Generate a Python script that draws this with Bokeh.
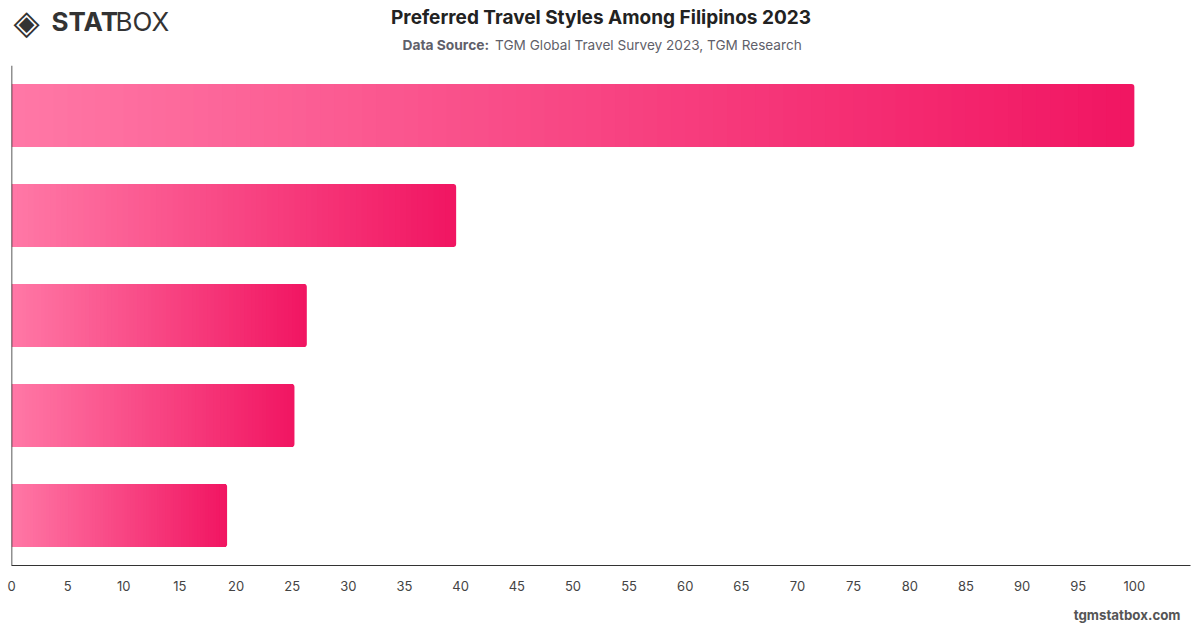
from bokeh.plotting import figure
from bokeh.layouts import column
from bokeh.models import Range1d, FixedTicker, Span, Label, ColumnDataSource
from bokeh.embed import file_html
from bokeh.resources import INLINE

# ---- data ----
categories = ["Style 1", "Style 2", "Style 3", "Style 4", "Style 5"]
values = [100, 39.6, 26.3, 25.2, 19.2]
x_ticks = list(range(0, 101, 5))

title_text = "Preferred Travel Styles Among Filipinos 2023"
source_bold = "Data Source:"
source_text = "TGM Global Travel Survey 2023, TGM Research"
footer_text = "tgmstatbox.com"

# ---- styling ----
C_LEFT = (255, 120, 166)
C_RIGHT = (241, 21, 98)
N_SEG = 80
BAR_H = 0.63
FONT = "Inter"
W = 1200
PAD = 10  # text panels keep a 10px side border
HEAD_H = 65
MAIN_H = 535
FOOT_H = 28

def lerp(a, b, t):
    return "#%02x%02x%02x" % tuple(int(round(a[i] + (b[i] - a[i]) * t)) for i in range(3))

def text_panel(top, height):
    f = figure(width=W, height=height, output_backend="svg", toolbar_location=None,
               x_range=Range1d(PAD, W - PAD), y_range=Range1d(top + height, top),
               x_axis_type=None, y_axis_type=None,
               min_border=0, min_border_left=0, min_border_right=0,
               min_border_top=0, min_border_bottom=0)
    f.outline_line_color = None
    f.grid.visible = False
    f.background_fill_color = "white"
    f.border_fill_color = "white"
    return f

def lab(f, x, y, text, size, color, style="normal", align="left", font=FONT):
    f.add_layout(Label(x=x, y=y, text=text, text_font=font, text_font_size=size,
                       text_color=color, text_font_style=style, text_align=align,
                       text_baseline="middle"))

# ---- header ----
head = text_panel(0, HEAD_H)
lab(head, 600, 17, title_text, "19px", "#222222", "bold", "center")
lab(head, 488, 44, source_bold, "13.8px", "#5f5f6a", "bold", "right")
lab(head, 494, 44, source_text, "13.6px", "#5f5f6a", "normal", "left")
lab(head, 12, 21, "◈", "34px", "#333333", "normal", "left", "DejaVu Sans")
lab(head, 50, 21, "STAT", "26px", "#333333", "bold", "left")
lab(head, 114, 21, "BOX", "26px", "#333333", "normal", "left")

# ---- main chart ----
p = figure(width=W, height=MAIN_H, output_backend="svg", toolbar_location=None,
           x_range=Range1d(0, 105), y_range=Range1d(0.5, len(categories) + 0.5),
           min_border_left=11, min_border_right=10, min_border_top=0, min_border_bottom=35)
p.outline_line_color = None
p.grid.visible = False
p.yaxis.visible = False
p.background_fill_color = "white"
p.border_fill_color = "white"

ys, lefts, rights, colors = [], [], [], []
end_y, end_l, end_r, end_c = [], [], [], []
n = len(categories)
for idx, v in enumerate(values):
    y = n - idx
    w = v / N_SEG
    for i in range(N_SEG):
        t = (i + 0.5) / N_SEG
        l = w * i
        r = w * (i + 1)
        if i < N_SEG - 1:
            ys.append(y); lefts.append(l); rights.append(r + w * 0.6); colors.append(lerp(C_LEFT, C_RIGHT, t))
        else:
            end_y.append(y); end_l.append(l); end_r.append(r); end_c.append(lerp(C_LEFT, C_RIGHT, t))

src = ColumnDataSource(dict(y=ys, left=lefts, right=rights, color=colors))
p.hbar(y="y", left="left", right="right", height=BAR_H, fill_color="color", line_color=None, source=src)
src2 = ColumnDataSource(dict(y=end_y, left=end_l, right=end_r, color=end_c))
p.hbar(y="y", left="left", right="right", height=BAR_H, fill_color="color", line_color=None,
       border_radius=(0, 3, 3, 0), source=src2)

p.add_layout(Span(location=0, dimension="height", line_color="#222222", line_width=1.5))

ax = p.xaxis[0]
ax.ticker = FixedTicker(ticks=x_ticks)
ax.axis_line_color = "#333333"
ax.axis_line_width = 1
ax.major_tick_out = 0
ax.major_tick_in = 0
ax.minor_tick_out = 0
ax.minor_tick_in = 0
ax.major_label_standoff = 15
ax.major_label_text_font = FONT
ax.major_label_text_font_size = "13px"
ax.major_label_text_color = "#444444"

# ---- footer ----
foot = text_panel(HEAD_H + MAIN_H, FOOT_H)
lab(foot, 1180, 614, footer_text, "13.3px", "#555555", "bold", "right")

layout = column(head, p, foot, spacing=0)
open("out.html", "w").write(file_html(layout, INLINE))
